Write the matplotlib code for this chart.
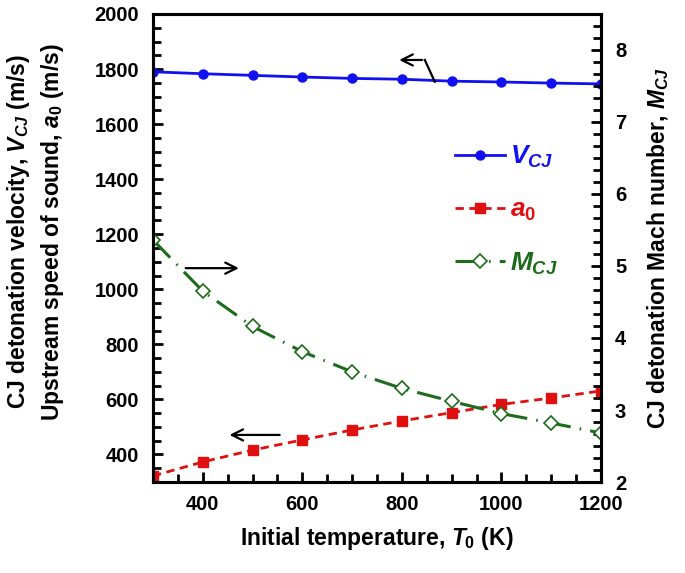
import numpy as np
import matplotlib
matplotlib.use('Agg')
import matplotlib.pyplot as plt
from matplotlib.ticker import MultipleLocator, AutoMinorLocator

plt.rcParams['font.family'] = ['Liberation Sans', 'DejaVu Sans']
plt.rcParams['font.weight'] = 'bold'
plt.rcParams['mathtext.fontset'] = 'custom'
plt.rcParams['mathtext.it'] = 'Liberation Sans:italic:bold'
plt.rcParams['mathtext.rm'] = 'Liberation Sans:bold'
plt.rcParams['mathtext.bf'] = 'Liberation Sans:bold'

# data
T0 = [300, 400, 500, 600, 700, 800, 900, 1000, 1100, 1200]
V_cj = [1790, 1783, 1777, 1771, 1766, 1763, 1756, 1753, 1749, 1746]
a_0 = [322, 373, 416, 453, 489, 522, 552, 582, 605, 631]
M_cj = [5.36, 4.65, 4.16, 3.81, 3.53, 3.30, 3.12, 2.95, 2.82, 2.68]

blue = '#1010f0'
red = '#e01010'
green = '#1b6b1b'

fig = plt.figure(figsize=(6.85, 5.73), dpi=100)
ax = fig.add_axes([0.2234, 0.1588, 0.6540, 0.8168])
ax2 = ax.twinx()

l1, = ax.plot(T0, V_cj, '-', color=blue, lw=2, marker='o', ms=6.5, label=r'$V_{CJ}$')
l2, = ax.plot(T0, a_0, color=red, lw=2, ls=(0, (3, 2)), marker='s', ms=7.5, label=r'$a_0$')
l3, = ax2.plot(T0, M_cj, color=green, lw=2.2, ls=(0, (8, 3, 0.5, 3)), marker='D', ms=7,
               mfc='white', mec=green, mew=1.2, label=r'$M_{CJ}$')

ax.set_xlim(300, 1200)
ax.set_ylim(300, 2000)
ax2.set_ylim(2, 8.5)

ax.xaxis.set_major_locator(MultipleLocator(200))
ax.xaxis.set_minor_locator(MultipleLocator(50))
ax.yaxis.set_major_locator(MultipleLocator(200))
ax.yaxis.set_minor_locator(MultipleLocator(50))
ax2.yaxis.set_major_locator(MultipleLocator(1))
ax2.yaxis.set_minor_locator(AutoMinorLocator(6))

ax.tick_params(axis='both', which='both', direction='in', top=False, right=False,
               labelsize=14.5, width=2)
ax.tick_params(axis='both', which='major', length=7, pad=10)
ax.tick_params(axis='both', which='minor', length=6)
ax.tick_params(axis='x', which='major', pad=9)
ax2.tick_params(axis='y', which='both', direction='in', labelsize=14.5, width=2)
ax2.tick_params(axis='y', which='major', length=7, pad=10)
ax2.tick_params(axis='y', which='minor', length=6)

for a in (ax, ax2):
    for s in a.spines.values():
        s.set_linewidth(2.2)

for lab in ax.get_xticklabels() + ax.get_yticklabels() + ax2.get_yticklabels():
    lab.set_fontweight('bold')

ax.set_xlabel(r'Initial temperature, $T_0$ (K)', fontsize=16.5, fontweight='bold', labelpad=8)
ax.set_ylabel('CJ detonation velocity, $V_{CJ}$ (m/s)\nUpstream speed of sound, $a_0$ (m/s)',
              fontsize=16.5, fontweight='bold', linespacing=1.35)
ax.yaxis.set_label_coords(-0.195, 0.535)
ax2.set_ylabel(r'CJ detonation Mach number, $M_{CJ}$', fontsize=16.5, fontweight='bold', labelpad=14)

# arrows pointing to the relevant axes
ax.annotate('', xy=(789, 1833), xytext=(846, 1833),
            arrowprops=dict(arrowstyle='->', color='black', lw=1.6, mutation_scale=20))
ax.plot([846, 866], [1833, 1754], color='black', lw=1.6)
ax2.annotate('', xy=(478, 4.97), xytext=(360, 4.97),
             arrowprops=dict(arrowstyle='->', color='black', lw=1.6, mutation_scale=20))
ax.annotate('', xy=(448, 471), xytext=(560, 471),
            arrowprops=dict(arrowstyle='->', color='black', lw=1.6, mutation_scale=20))

leg = ax.legend(handles=[l1, l2, l3], loc='upper left', bbox_to_anchor=(0.65, 0.745),
                frameon=False, fontsize=19, handlelength=1.9, handletextpad=0.2,
                labelspacing=1.05, borderaxespad=0)
for txt, c in zip(leg.get_texts(), [blue, red, green]):
    txt.set_color(c)

fig.savefig('out.png', dpi=100)
